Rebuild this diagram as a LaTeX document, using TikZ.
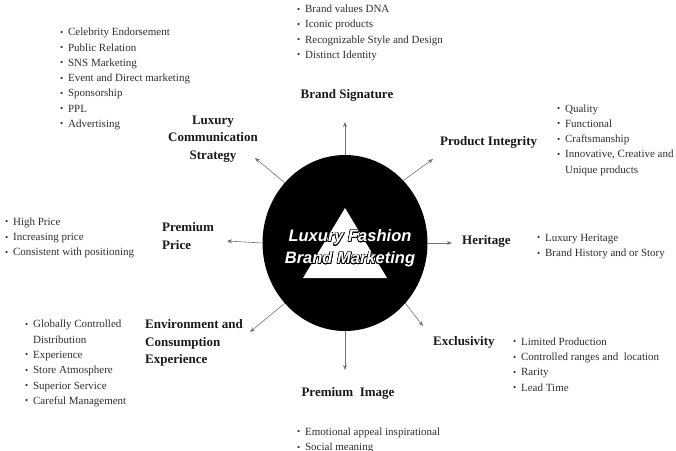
\documentclass[tikz,border=0pt]{standalone}
\usepackage{fontspec}
\setmainfont{Liberation Serif}
\newfontfamily\hubfont{Liberation Sans}
\usepackage[copies]{contour}
\contourlength{0.6pt}
\usetikzlibrary{shapes.geometric, arrows.meta}
\newcommand{\bl}{\makebox[0.72em][l]{\raisebox{0.6pt}{\fontsize{9}{9}\selectfont\textbullet}}}

\begin{document}
\begin{tikzpicture}[x=1pt, y=-1pt,
  pillar/.style={font=\fontsize{13}{17.5}\selectfont\bfseries, text=black!90, inner sep=0pt},
  itemlist/.style={font=\fontsize{11}{15.3}\selectfont, text=black!82, align=left, anchor=west, inner sep=0pt},
  spoke/.style={draw=black!55, semithick, -{Stealth[length=5pt, width=4pt]}}]
  \useasboundingbox (0,0) rectangle (676,450);
  % --- hub: circle, triangle and title ---
  \node[ellipse, fill=black, minimum width=165pt, minimum height=176pt] (hub) at (345,243) {};
  \fill[white] (345,208) -- (303,278) -- (387,278) -- cycle;
  \node[font=\hubfont\fontsize{16.5}{22}\selectfont\bfseries\itshape, text=white, align=center] (title) at (350,249)
    {\contour{black}{Luxury Fashion}\\\contour{black}{Brand Marketing}};
  % --- pillars ---
  \node[pillar] (sig) at (347,95) {Brand Signature};
  \node[pillar, anchor=west] (integ) at (440,142) {Product Integrity};
  \node[pillar, anchor=west] (herit) at (462,241) {Heritage};
  \node[pillar, anchor=west] (excl) at (433,342) {Exclusivity};
  \node[pillar] (pimage) at (348,393) {Premium\enspace Image};
  \node[pillar, anchor=west, align=left] (env) at (145,343) {Environment and\\Consumption\\Experience};
  \node[pillar, anchor=west, align=left] (price) at (162,236) {Premium\\Price};
  \node[pillar, align=center] (comm) at (213,139) {Luxury\\Communication\\Strategy};
  % --- spokes ---
  \coordinate (sigT) at (345,122);
  \coordinate (integT) at (433,159);
  \coordinate (heritT) at (452,243);
  \coordinate (exclT) at (423,326);
  \coordinate (pimageT) at (345,370);
  \coordinate (envT) at (250,332);
  \coordinate (priceT) at (227,241);
  \coordinate (commT) at (255,158);
  \draw[spoke] (hub.north) -- (sigT);
  \draw[spoke] (hub.47) -- (integT);
  \draw[spoke] (hub.east) -- (heritT);
  \draw[spoke] (hub.-45) -- (exclT);
  \draw[spoke] (hub.south) -- (pimageT);
  \draw[spoke] (hub.225) -- (envT);
  \draw[spoke] (hub.west) -- (priceT);
  \draw[spoke] (hub.135) -- (commT);
  % --- item lists ---
  \node[itemlist] (sigL) at (297,33) {\bl Brand values DNA\\\bl Iconic products\\\bl Recognizable Style and Design\\\bl Distinct Identity};
  \node[itemlist] (commL) at (60,79) {\bl Celebrity Endorsement\\\bl Public Relation\\\bl SNS Marketing\\\bl Event and Direct marketing\\\bl Sponsorship\\\bl PPL\\\bl Advertising};
  \node[itemlist] (integL) at (557,140) {\bl Quality\\\bl Functional\\\bl Craftsmanship\\\bl Innovative, Creative and\\\hspace*{0.72em}Unique products};
  \node[itemlist] (heritL) at (537,246.5) {\bl Luxury Heritage\\\bl Brand History and or Story};
  \node[itemlist] (exclL) at (513,364.5) {\bl Limited Production\\\bl Controlled ranges and\enspace location\\\bl Rarity\\\bl Lead Time};
  \node[itemlist] (pimageL) at (297,440.5) {\bl Emotional appeal inspirational\\\bl Social meaning};
  \node[itemlist] (priceL) at (5,238) {\bl High Price\\\bl Increasing price\\\bl Consistent with positioning};
  \node[itemlist] (envL) at (25,363.5) {\bl Globally Controlled\\\hspace*{0.72em}Distribution\\\bl Experience\\\bl Store Atmosphere\\\bl Superior Service\\\bl Careful Management};
\end{tikzpicture}
\end{document}
